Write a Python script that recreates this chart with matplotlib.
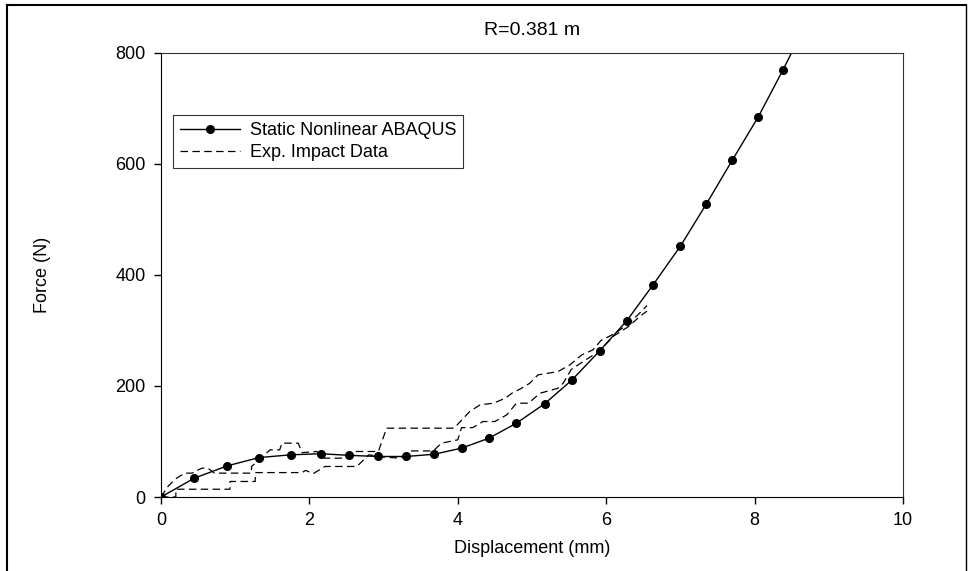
import matplotlib
matplotlib.use("Agg")
import matplotlib.pyplot as plt
from matplotlib.lines import Line2D

plt.rcParams['font.family'] = ['Liberation Sans', 'DejaVu Sans']

# ---- data ----
# static nonlinear ABAQUS curve (markers)
model_x = [0.0, 0.45, 0.89, 1.32, 1.75, 2.15, 2.54, 2.93, 3.30, 3.68, 4.05, 4.42,
           4.79, 5.17, 5.54, 5.91, 6.28, 6.63, 7.00, 7.35, 7.70, 8.05, 8.38, 8.72]
model_y = [0, 34, 56, 71, 76, 78, 75, 73, 73, 77, 88, 106,
           133, 168, 211, 263, 318, 382, 452, 528, 607, 685, 769, 859]

# experimental impact data, upper trace
expA_x = [0.0, 0.10, 0.20, 0.32, 0.42, 0.55, 0.63, 0.72, 0.93, 1.22, 1.22, 1.35,
          1.47, 1.60, 1.63, 1.85, 1.87, 1.90, 2.10, 2.20, 2.50, 2.60, 2.93, 3.04,
          3.95, 4.16, 4.30, 4.48, 4.64, 4.73, 4.86, 4.97, 5.08, 5.35, 5.51, 5.67,
          5.82, 5.93, 6.12, 6.30, 6.48, 6.55]
expA_y = [0, 20, 33, 43, 43, 52, 52, 43, 43, 43, 55, 70,
          85, 85, 97, 97, 90, 80, 82, 70, 70, 82, 82, 124,
          124, 154, 166, 169, 178, 187, 196, 205, 220, 226, 238, 256,
          265, 282, 295, 312, 335, 345]

# experimental impact data, lower trace
expB_x = [0.0, 0.20, 0.20, 0.93, 0.93, 1.27, 1.27, 1.90, 1.95, 2.05, 2.21, 2.64,
          2.80, 3.00, 3.22, 3.36, 3.67, 3.78, 4.00, 4.05, 4.20, 4.34, 4.50, 4.66,
          4.79, 4.95, 5.11, 5.35, 5.42, 5.53, 5.70, 5.90, 6.10, 6.30, 6.45, 6.55]
expB_y = [0, 0, 14, 14, 28, 28, 44, 44, 48, 42, 55, 55,
          76, 72, 70, 83, 83, 97, 103, 125, 125, 136, 136, 148,
          169, 169, 187, 196, 205, 230, 245, 262, 290, 307, 325, 335]

title = "R=0.381 m"
xlabel = "Displacement (mm)"
ylabel = "Force (N)"
xticks = [0, 2, 4, 6, 8, 10]
yticks = [0, 200, 400, 600, 800]

# ---- figure ----
fig = plt.figure(figsize=(9.71, 5.71), dpi=100)
ax = fig.add_axes([161 / 971, 1 - 497 / 571, 742 / 971, 444 / 571])

ax.plot(model_x, model_y, color='black', lw=1.0, marker='o', markersize=5.5,
        label='Static Nonlinear ABAQUS')
ax.plot(expA_x, expA_y, color='black', lw=0.9, linestyle=(0, (6, 3.5)),
        label='Exp. Impact Data')
ax.plot(expB_x, expB_y, color='black', lw=0.9, linestyle=(0, (6, 3.5)))

ax.set_xlim(0, 10)
ax.set_ylim(0, 800)
ax.set_xticks(xticks)
ax.set_yticks(yticks)
ax.tick_params(direction='out', length=5, width=1, labelsize=13, pad=6)
for s in ax.spines.values():
    s.set_linewidth(0.8)
    s.set_color('#333333')
ax.spines['left'].set_color('black')
ax.spines['bottom'].set_color('black')

ax.set_title(title, fontsize=14, pad=13)
ax.set_xlabel(xlabel, fontsize=13, labelpad=8)
ax.set_ylabel(ylabel, fontsize=13, labelpad=46)

leg = ax.legend(loc='upper left', bbox_to_anchor=(0.016, 0.86), fontsize=13,
                frameon=True, fancybox=False, handlelength=3.3, handletextpad=0.55,
                borderpad=0.4, labelspacing=0.25, borderaxespad=0)
leg.get_frame().set_edgecolor('black')
leg.get_frame().set_linewidth(0.8)

# outer frame of the figure
W, H = 971, 571
fig.add_artist(Line2D([7 / W, 7 / W], [0, 1 - 5 / H], color='black', lw=1.5))
fig.add_artist(Line2D([7 / W, 966 / W], [1 - 5 / H, 1 - 5 / H], color='black', lw=1.5))
fig.add_artist(Line2D([966 / W, 966 / W], [0, 1 - 5 / H], color='black', lw=1.0))

fig.savefig("out.png", dpi=100)
